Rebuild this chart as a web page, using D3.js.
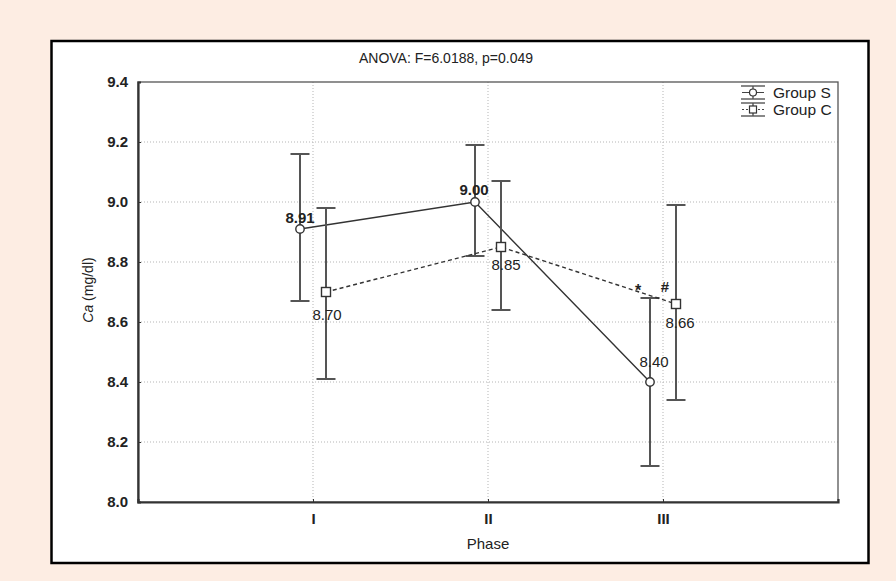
<html lang="en">
<head>
<title>Ca by phase</title>
<script src="https://d3js.org/d3.v7.min.js"></script>
<style>
  body { margin: 0; background: #fdede3; font-family: "Liberation Sans", Arial, sans-serif; }
  svg { display: block; }
</style>
</head>
<body>
<script>
// data
var phases = ["I", "II", "III"];
var groups = ["Group S", "Group C"];
var meanS = [8.91, 9.00, 8.40];
var lowS  = [8.67, 8.82, 8.12];
var highS = [9.16, 9.19, 8.68];
var meanC = [8.70, 8.85, 8.66];
var lowC  = [8.41, 8.64, 8.34];
var highC = [8.98, 9.07, 8.99];
var labelsS = ["8.91", "9.00", "8.40"];
var labelsC = ["8.70", "8.85", "8.66"];
var yTicks = [8.0, 8.2, 8.4, 8.6, 8.8, 9.0, 9.2, 9.4];

var width = 896, height = 581;
var plotL = 138, plotR = 838, plotT = 82, plotB = 502;

var svg = d3.select("body").append("svg")
    .attr("width", width)
    .attr("height", height);

// white frame
svg.append("rect")
    .attr("x", 51.5).attr("y", 41)
    .attr("width", 817).attr("height", 522)
    .attr("fill", "white")
    .attr("stroke", "#000")
    .attr("stroke-width", 2.5);

var x = d3.scaleLinear().domain([0, 4]).range([plotL, plotR]);
var y = d3.scaleLinear().domain([8.0, 9.4]).range([plotB, plotT]);
var off = 13;

// grid
svg.append("g").selectAll("line")
    .data(yTicks.slice(1, -1))
    .enter().append("line")
    .attr("x1", plotL).attr("x2", plotR)
    .attr("y1", function(d) { return y(d); })
    .attr("y2", function(d) { return y(d); })
    .attr("stroke", "#b5b5b5")
    .attr("stroke-dasharray", "1,2");

svg.append("g").selectAll("line")
    .data(phases)
    .enter().append("line")
    .attr("x1", function(d, i) { return x(i + 1); })
    .attr("x2", function(d, i) { return x(i + 1); })
    .attr("y1", plotT).attr("y2", plotB)
    .attr("stroke", "#b5b5b5")
    .attr("stroke-dasharray", "1,2");

// plot box
svg.append("rect")
    .attr("x", plotL).attr("y", plotT)
    .attr("width", plotR - plotL).attr("height", plotB - plotT)
    .attr("fill", "none")
    .attr("stroke", "#555")
    .attr("stroke-width", 1.3);

// axes (ticks point inward)
var yAxis = svg.append("g")
    .attr("transform", "translate(" + plotL + ",0)")
    .call(d3.axisLeft(y).tickValues(yTicks).tickSize(-3).tickFormat(d3.format(".1f")));
var xAxis = svg.append("g")
    .attr("transform", "translate(0," + plotB + ")")
    .call(d3.axisBottom(x).tickValues([1, 2, 3]).tickSize(-3)
        .tickFormat(function(d) { return phases[d - 1]; }));

[yAxis, xAxis].forEach(function(a) {
  a.select(".domain").attr("stroke", "#333").attr("stroke-width", 2.2);
  a.selectAll(".tick line").attr("stroke", "#333");
  a.selectAll("text")
    .attr("fill", "#222")
    .style("font-size", "15px")
    .style("font-weight", "bold")
    .style("font-family", "'Liberation Sans', Arial, sans-serif");
});
yAxis.selectAll("text").attr("x", -10);
xAxis.selectAll("text").attr("y", 11);

// titles
svg.append("text")
    .attr("x", 446).attr("y", 63)
    .attr("text-anchor", "middle")
    .style("font-size", "14px")
    .attr("fill", "#222")
    .text("ANOVA: F=6.0188, p=0.049");

svg.append("text")
    .attr("x", 488).attr("y", 549)
    .attr("text-anchor", "middle")
    .style("font-size", "15px")
    .attr("fill", "#222")
    .text("Phase");

var yl = svg.append("text")
    .attr("transform", "translate(93," + 290 + ") rotate(-90)")
    .attr("text-anchor", "middle")
    .style("font-size", "14px")
    .attr("fill", "#222");
yl.append("tspan").style("font-style", "italic").text("Ca");
yl.append("tspan").text(" (mg/dl)");

// series
var series = [
  { mean: meanS, low: lowS, high: highS, labels: labelsS, dx: -off, dash: null, bold: true },
  { mean: meanC, low: lowC, high: highC, labels: labelsC, dx: off, dash: "4,3", bold: false }
];

series.forEach(function(s, k) {
  var pts = s.mean.map(function(m, i) { return [x(i + 1) + s.dx, y(m)]; });
  var g = svg.append("g");

  g.append("path")
    .attr("d", d3.line()(pts))
    .attr("fill", "none")
    .attr("stroke", "#333")
    .attr("stroke-width", 1.4)
    .attr("stroke-dasharray", s.dash);

  s.mean.forEach(function(m, i) {
    var cx = x(i + 1) + s.dx;
    g.append("line")
      .attr("x1", cx).attr("x2", cx)
      .attr("y1", y(s.low[i])).attr("y2", y(s.high[i]))
      .attr("stroke", "#555").attr("stroke-width", 2);
    [s.low[i], s.high[i]].forEach(function(v) {
      g.append("line")
        .attr("x1", cx - 9.5).attr("x2", cx + 9.5)
        .attr("y1", y(v)).attr("y2", y(v))
        .attr("stroke", "#555").attr("stroke-width", 2);
    });
  });

  if (k === 0) {
    g.selectAll("circle").data(pts).enter().append("circle")
      .attr("cx", function(d) { return d[0]; })
      .attr("cy", function(d) { return d[1]; })
      .attr("r", 4.2)
      .attr("fill", "white").attr("stroke", "#333").attr("stroke-width", 1.4);
  } else {
    g.selectAll("rect").data(pts).enter().append("rect")
      .attr("x", function(d) { return d[0] - 4.5; })
      .attr("y", function(d) { return d[1] - 4.5; })
      .attr("width", 9).attr("height", 9)
      .attr("fill", "white").attr("stroke", "#333").attr("stroke-width", 1.4);
  }
});

// value labels (offsets from the point: dx, baseline dy)
var labelPos = [
  [[0, -6], [-1, -7], [4, -15]],
  [[1, 28], [5, 23], [4, 24]]
];
series.forEach(function(s, k) {
  s.mean.forEach(function(m, i) {
    svg.append("text")
      .attr("x", x(i + 1) + s.dx + labelPos[k][i][0])
      .attr("y", y(m) + labelPos[k][i][1])
      .attr("text-anchor", "middle")
      .style("font-size", "15px")
      .style("font-weight", s.bold && i < 2 ? "bold" : "normal")
      .attr("fill", "#222")
      .text(s.labels[i]);
  });
});

// significance marks
svg.append("text").attr("x", 638).attr("y", 296)
    .attr("text-anchor", "middle").style("font-size", "16px").style("font-weight", "bold")
    .attr("fill", "#222")
    .text("*");
svg.append("text").attr("x", 665).attr("y", 292)
    .attr("text-anchor", "middle").style("font-size", "15px").style("font-weight", "bold")
    .attr("fill", "#222")
    .text("#");

// legend
var leg = svg.append("g").attr("transform", "translate(741,86)");
groups.forEach(function(name, i) {
  var row = leg.append("g").attr("transform", "translate(0," + (i * 17) + ")");
  row.append("line").attr("x1", 0).attr("x2", 24).attr("y1", 0).attr("y2", 0)
    .attr("stroke", "#555").attr("stroke-width", 1.4);
  row.append("line").attr("x1", 0).attr("x2", 24).attr("y1", 13).attr("y2", 13)
    .attr("stroke", "#555").attr("stroke-width", 1.4);
  row.append("line").attr("x1", 12).attr("x2", 12).attr("y1", 0).attr("y2", 13)
    .attr("stroke", "#555").attr("stroke-width", 1.4);
  row.append("line").attr("x1", 1).attr("x2", 23).attr("y1", 6.5).attr("y2", 6.5)
    .attr("stroke", "#444").attr("stroke-width", 1)
    .attr("stroke-dasharray", i === 1 ? "2,2" : null);
  if (i === 0) {
    row.append("circle").attr("cx", 12).attr("cy", 6.5).attr("r", 3.5)
      .attr("fill", "white").attr("stroke", "#333").attr("stroke-width", 1.2);
  } else {
    row.append("rect").attr("x", 8.5).attr("y", 3).attr("width", 7).attr("height", 7)
      .attr("fill", "white").attr("stroke", "#333").attr("stroke-width", 1.2);
  }
  row.append("text").attr("x", 32).attr("y", 12)
    .style("font-size", "15.5px").attr("fill", "#222")
    .text(name);
});
</script>
</body>
</html>
